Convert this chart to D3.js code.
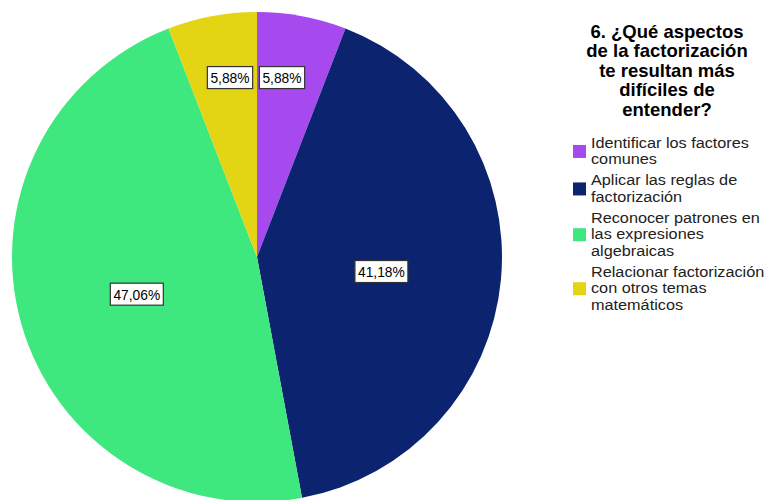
<!DOCTYPE html>
<html>
<head>
<meta charset="utf-8">
<script src="https://cdn.jsdelivr.net/npm/d3@7"></script>
<style>
  body { margin: 0; background: #fff; }
  svg { display: block; font-family: "Liberation Sans", Arial, sans-serif; }
</style>
</head>
<body>
<svg id="chart" width="769" height="500"></svg>
<script>
// data
const categories = [
  "Identificar los factores comunes",
  "Aplicar las reglas de factorización",
  "Reconocer patrones en las expresiones algebraicas",
  "Relacionar factorización con otros temas matemáticos"
];
const legendLines = [
  ["Identificar los factores", "comunes"],
  ["Aplicar las reglas de", "factorización"],
  ["Reconocer patrones en", "las expresiones", "algebraicas"],
  ["Relacionar factorización", "con otros temas", "matemáticos"]
];
const percents = [5.88, 41.18, 47.06, 5.88];
const percentLabels = ["5,88%", "41,18%", "47,06%", "5,88%"];
const colors = ["#a64af0", "#0c2470", "#3ee87e", "#e3d414"];
const titleLines = ["6. ¿Qué aspectos", "de la factorización", "te resultan más", "difíciles de", "entender?"];

const svg = d3.select("#chart");
const cx = 257, cy = 257, r = 245;

const pie = d3.pie().sort(null).value(d => d);
const arcs = pie(percents);
const arc = d3.arc().innerRadius(0).outerRadius(r);

const g = svg.append("g").attr("transform", "translate(" + cx + "," + cy + ")");

g.selectAll("path.slice")
  .data(arcs)
  .enter()
  .append("path")
  .attr("class", "slice")
  .attr("d", arc)
  .attr("fill", (d, i) => colors[i]);

// labels: big slices near middle, small slices further out and nudged off the split line
const labelArcBig = d3.arc().innerRadius(r * 0.51).outerRadius(r * 0.51);
const labelArcSmall = d3.arc().innerRadius(r * 0.745).outerRadius(r * 0.745);
const sx = 0.92;

arcs.forEach((d, i) => {
  const small = (d.endAngle - d.startAngle) < 0.6;
  let [lx, ly] = small ? labelArcSmall.centroid(d) : labelArcBig.centroid(d);
  if (small) lx = lx > 0 ? 25 : -27;
  else ly += 3;
  const lab = g.append("g").attr("transform", "translate(" + lx + "," + ly + ")");
  const t = lab.append("text")
    .attr("transform", "scale(" + sx + ",1)")
    .attr("text-anchor", "middle")
    .attr("dy", "0.36em")
    .attr("font-size", 15)
    .attr("fill", "#000")
    .text(percentLabels[i]);
  const bb = t.node().getBBox();
  const w = bb.width * sx + 6;
  lab.insert("rect", "text")
    .attr("x", -w / 2)
    .attr("y", -11)
    .attr("width", w)
    .attr("height", 22)
    .attr("fill", "#fff")
    .attr("stroke", "#333")
    .attr("stroke-width", 1.2);
});

// title
svg.append("text")
  .attr("x", 667)
  .attr("y", 38)
  .attr("text-anchor", "middle")
  .attr("font-size", 18.5)
  .attr("font-weight", "bold")
  .attr("fill", "#000")
  .selectAll("tspan")
  .data(titleLines)
  .enter()
  .append("tspan")
  .attr("x", 667)
  .attr("dy", (d, i) => i === 0 ? 0 : 19.4)
  .text(d => d);

// legend (text is drawn a bit wide, like the original)
const lineH = 16.5, itemGap = 4.5;
let base = 147.7;
legendLines.forEach((lines, i) => {
  const n = lines.length;
  const mid = base - 5 + (n - 1) * lineH / 2;
  svg.append("rect")
    .attr("x", 573)
    .attr("y", mid - 6)
    .attr("width", 13)
    .attr("height", 13)
    .attr("fill", colors[i]);
  const t = svg.append("text")
    .attr("transform", "translate(591,0) scale(1.16,1)")
    .attr("font-size", 14)
    .attr("fill", "#222");
  lines.forEach((ln, j) => {
    t.append("tspan")
      .attr("x", 0)
      .attr("y", base + j * lineH)
      .text(ln);
  });
  base += n * lineH + itemGap;
});
</script>
</body>
</html>
